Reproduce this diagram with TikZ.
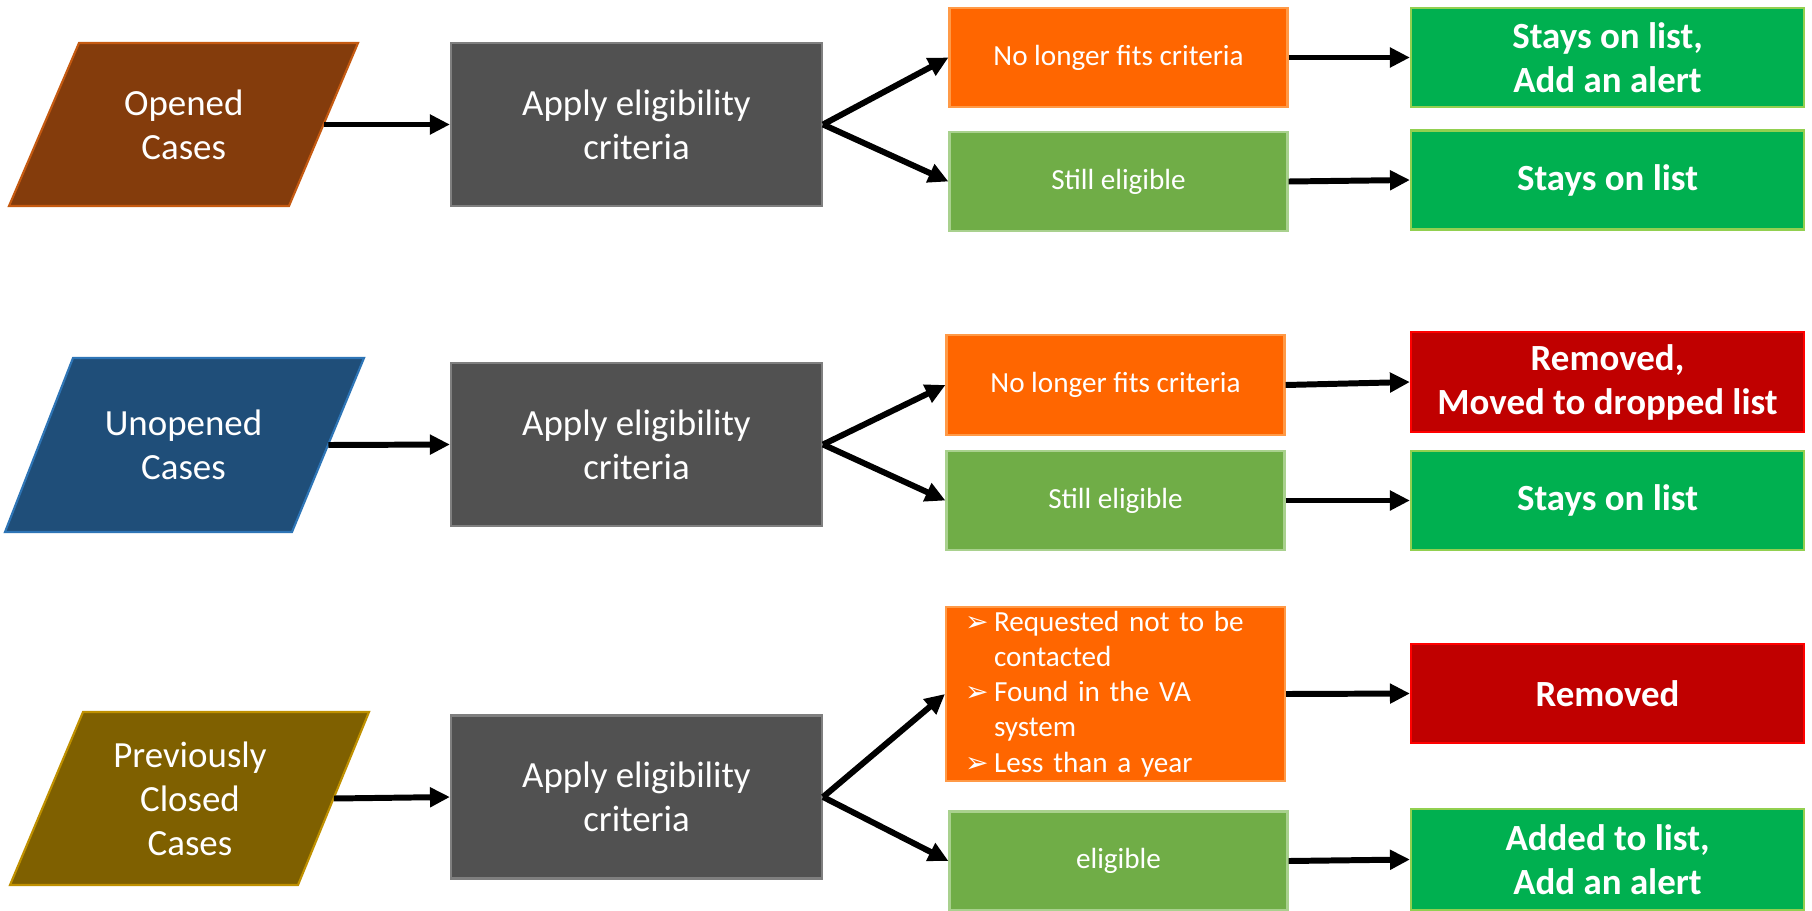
\documentclass[tikz,border=0pt]{standalone}
\usepackage{fontspec}
\setmainfont{Carlito}
\newfontfamily\bulletfont{DejaVu Sans}
\usetikzlibrary{arrows.meta}

\definecolor{openedfill}{HTML}{843C0C}
\definecolor{openedline}{HTML}{C55A11}
\definecolor{unopenedfill}{HTML}{1F4E79}
\definecolor{unopenedline}{HTML}{2E75B6}
\definecolor{closedfill}{HTML}{7F6000}
\definecolor{closedline}{HTML}{BF9000}
\definecolor{applyfill}{HTML}{515151}
\definecolor{applyline}{HTML}{7F7F7F}
\definecolor{nofitfill}{HTML}{FF6600}
\definecolor{nofitline}{HTML}{FF9A47}
\definecolor{stillfill}{HTML}{70AD47}
\definecolor{stillline}{HTML}{A9D18E}
\definecolor{keepfill}{HTML}{00B050}
\definecolor{keepline}{HTML}{92D050}
\definecolor{dropfill}{HTML}{C00000}
\definecolor{dropline}{HTML}{FF0000}

\def\px{0.02cm}
\newcommand{\boxfont}{\fontsize{21pt}{25pt}\selectfont}
\newcommand{\smallboxfont}{\fontsize{16.6pt}{20pt}\selectfont}
\newcommand{\bulitem}{\makebox[0.58cm][l]{\bulletfont\fontsize{16pt}{16pt}\selectfont ➢}}

\tikzset{
  box/.style={draw, line width=1.2pt, text=white, inner sep=0pt, align=center},
  slanted/.style={line width=1.2pt},
  intext/.style={text=white, inner sep=0pt, align=center, font=\boxfont},
  applybox/.style={box, fill=applyfill, draw=applyline, minimum width=371*\px,
    minimum height=163*\px, font=\boxfont},
  smallbox/.style={box, minimum width=338*\px, minimum height=99*\px, font=\smallboxfont},
  resultbox/.style={box, minimum width=393*\px, minimum height=99*\px, font=\boxfont\bfseries},
  flow/.style={-{Triangle[length=0.4cm,width=0.38cm]}, line width=3.4pt}
}

\begin{document}
\begin{tikzpicture}[x=\px, y=-\px]
  \path[use as bounding box, fill=white] (0,0) rectangle (1812,910);

  % opened cases
  \draw[slanted, fill=openedfill, draw=openedline] (79,43) -- (358,43) -- (289,206) -- (9,206) -- cycle;
  \node[intext, minimum width=279.5*\px, minimum height=163*\px] (opened) at (183.75,124.5) {Opened\\Cases};
  \node[applybox] (apply1) at (636.5,124.5) {Apply eligibility\\criteria};
  \node[smallbox, fill=nofitfill, draw=nofitline] (nofit1) at (1118.5,57.5) {No longer fits criteria};
  \node[smallbox, fill=stillfill, draw=stillline] (still1) at (1118.5,181.5) {Still eligible};
  \node[resultbox, fill=keepfill, draw=keepline] (alert1) at (1607.5,57.5) {Stays on list,\\Add an alert};
  \node[resultbox, fill=keepfill, draw=keepline] (stays1) at (1607.5,180) {Stays on list};

  \draw[flow] (opened.east) -- (apply1.west);
  \draw[flow] (apply1.east) -- (nofit1.west);
  \draw[flow] (apply1.east) -- (still1.west);
  \draw[flow] (nofit1.east) -- (alert1.west);
  \draw[flow] (still1.east) -- (stays1.west);

  % unopened cases
  \draw[slanted, fill=unopenedfill, draw=unopenedline] (73,358) -- (364,358) -- (292,532) -- (5,532) -- cycle;
  \node[intext, minimum width=289*\px, minimum height=174*\px] (unopened) at (183.5,445) {Unopened\\Cases};
  \node[applybox] (apply2) at (636.5,444.5) {Apply eligibility\\criteria};
  \node[smallbox, fill=nofitfill, draw=nofitline, minimum height=100*\px] (nofit2) at (1115.5,385) {No longer fits criteria};
  \node[smallbox, fill=stillfill, draw=stillline] (still2) at (1115.5,500.5) {Still eligible};
  \node[resultbox, fill=dropfill, draw=dropline, minimum height=100*\px] (dropped2) at (1607.5,382) {Removed,\\Moved to dropped list};
  \node[resultbox, fill=keepfill, draw=keepline] (stays2) at (1607.5,500.5) {Stays on list};

  \draw[flow] (unopened.east) -- (apply2.west);
  \draw[flow] (apply2.east) -- (nofit2.west);
  \draw[flow] (apply2.east) -- (still2.west);
  \draw[flow] (nofit2.east) -- (dropped2.west);
  \draw[flow] (still2.east) -- (stays2.west);

  % previously closed cases
  \draw[slanted, fill=closedfill, draw=closedline] (83,712) -- (369,712) -- (298,885) -- (10,885) -- cycle;
  \node[intext, minimum width=287*\px, minimum height=173*\px] (closed) at (190,798.5) {Previously\\Closed\\Cases};
  \node[applybox] (apply3) at (636.5,797) {Apply eligibility\\criteria};
  \node[smallbox, fill=nofitfill, draw=nofitline, minimum height=174*\px, text width=301*\px,
    inner xsep=19*\px, align=left] (reasons3) at (1115.5,694)
    {\bulitem Requested not to be\\
     \hspace*{0.58cm}contacted\\
     \bulitem Found in the VA\\
     \hspace*{0.58cm}system\\
     \bulitem Less than a year};
  \node[smallbox, fill=stillfill, draw=stillline] (elig3) at (1118.5,861) {eligible};
  \node[resultbox, fill=dropfill, draw=dropline] (removed3) at (1607.5,693.5) {Removed};
  \node[resultbox, fill=keepfill, draw=keepline, minimum height=101*\px] (added3) at (1607.5,859.5) {Added to list,\\Add an alert};

  \draw[flow] (closed.east) -- (apply3.west);
  \draw[flow] (apply3.east) -- (reasons3.west);
  \draw[flow] (apply3.east) -- (elig3.west);
  \draw[flow] (reasons3.east) -- (removed3.west);
  \draw[flow] (elig3.east) -- (added3.west);
\end{tikzpicture}
\end{document}
